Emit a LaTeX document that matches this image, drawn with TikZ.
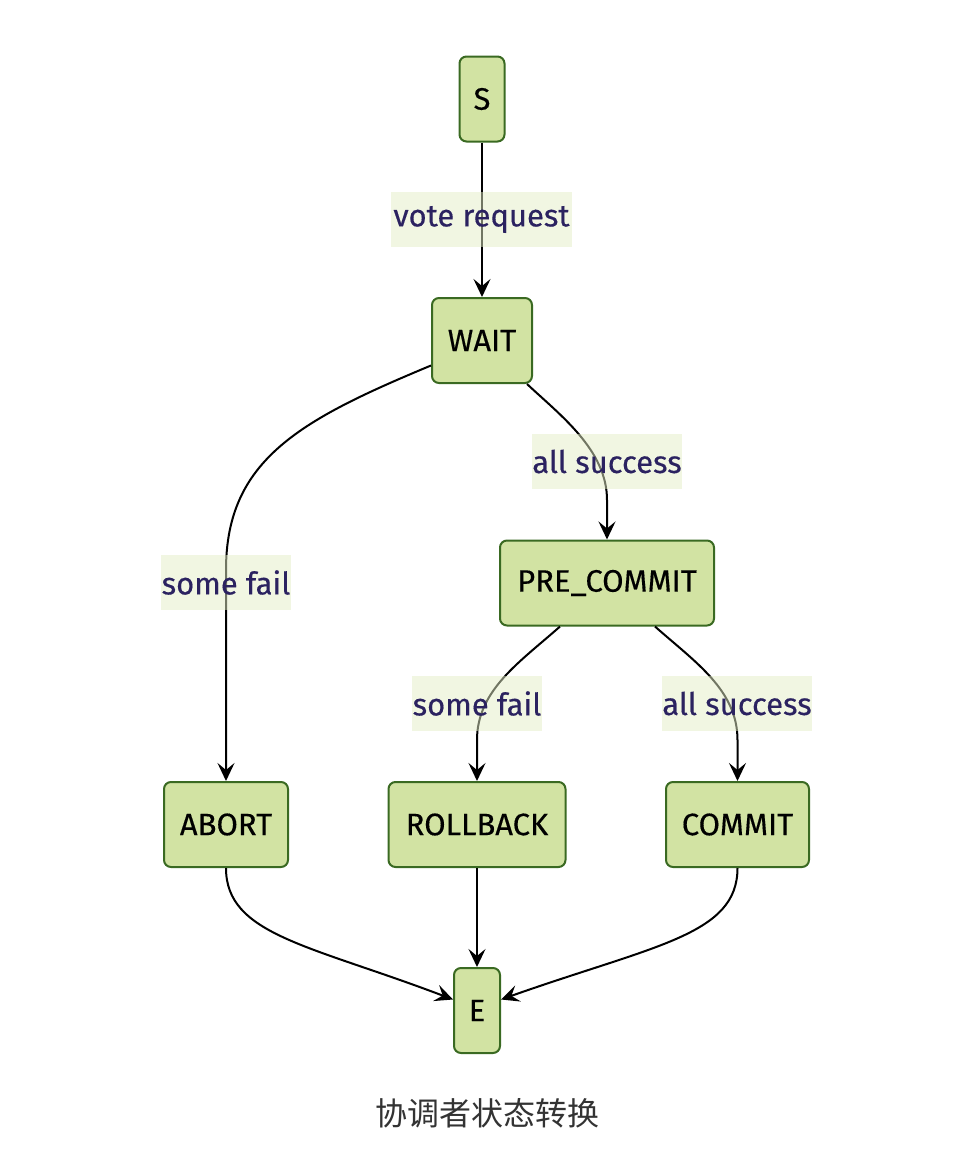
\documentclass[tikz,border=0pt]{standalone}
\usepackage{fontspec}
\setmainfont{Fira Sans}
\newfontfamily\nodefont{Fira Sans}[FakeBold=0.35]
\newfontfamily\cjk{Noto Sans CJK SC}
\usetikzlibrary{arrows.meta}
\definecolor{nodefill}{HTML}{D2E3A3}
\definecolor{nodeline}{HTML}{3A6A22}
\definecolor{lblfill}{HTML}{E3EDC6}
\definecolor{lbltext}{HTML}{2B2260}
\definecolor{captext}{HTML}{333333}
\begin{document}
\begin{tikzpicture}[x=1pt,y=-1pt,
  statebox/.style={draw=nodeline,fill=nodefill,line width=2pt,rounded corners=7pt,
    minimum height=85pt,inner sep=0pt,font=\nodefont\fontsize{31}{34}\selectfont,text=black},
  lbl/.style={fill=lblfill,fill opacity=0.5,text opacity=1,text=lbltext,
    minimum height=55pt,inner xsep=0pt,inner ysep=0pt,font=\nodefont\fontsize{31}{34}\selectfont},
  arr/.style={line width=2pt,-{Stealth[length=18pt,width=17pt,inset=7pt]}}]
\useasboundingbox (0,0) rectangle (962,1152);
\node[statebox,minimum width=45pt] (s) at (482,99) {S};
\node[statebox,minimum width=100pt] (wait) at (482,340.5) {WAIT};
\node[statebox,minimum width=214pt] (pre) at (607,583) {PRE\_COMMIT};
\node[statebox,minimum width=124pt] (abort) at (226,824.5) {ABORT};
\node[statebox,minimum width=177pt] (rollback) at (477,824.5) {ROLLBACK};
\node[statebox,minimum width=143pt] (commit) at (737.5,824.5) {COMMIT};
\node[statebox,minimum width=46pt] (e) at (477,1010.5) {E};
\node[font=\cjk\fontsize{32}{35}\selectfont,text=captext] (cap) at (487,1113) {协调者状态转换};

\draw[arr] (s.south) -- (wait.north);
\draw[arr] ([yshift=-25pt]wait.west) .. controls (300,420) and (226,460) .. (226,570) -- (abort.north);
\draw[arr] ([xshift=-6pt]wait.south east) .. controls (560,415) and (607,450) .. (607,500) -- (pre.north);
\draw[arr] ([xshift=-47pt]pre.south) .. controls (520,662) and (477,690) .. (477,740) -- (rollback.north);
\draw[arr] ([xshift=48pt]pre.south) .. controls (695,662) and (737.5,690) .. (737.5,740) -- (commit.north);
\draw[arr] (rollback.south) -- (e.north);
\draw[arr] (abort.south) .. controls (226,935) and (310,945) .. ([yshift=11pt]e.west);
\draw[arr] (commit.south) .. controls (737.5,935) and (655,945) .. ([yshift=11pt]e.east);

\node[lbl,minimum width=181pt] (l1) at (481.5,219.5) {vote request};
\node[lbl,minimum width=150pt] (l2) at (607,461.5) {all success};
\node[lbl,minimum width=130pt] (l3) at (226,582.5) {some fail};
\node[lbl,minimum width=130pt] (l4) at (477,703.5) {some fail};
\node[lbl,minimum width=150pt] (l5) at (737,703.5) {all success};
\end{tikzpicture}
\end{document}
